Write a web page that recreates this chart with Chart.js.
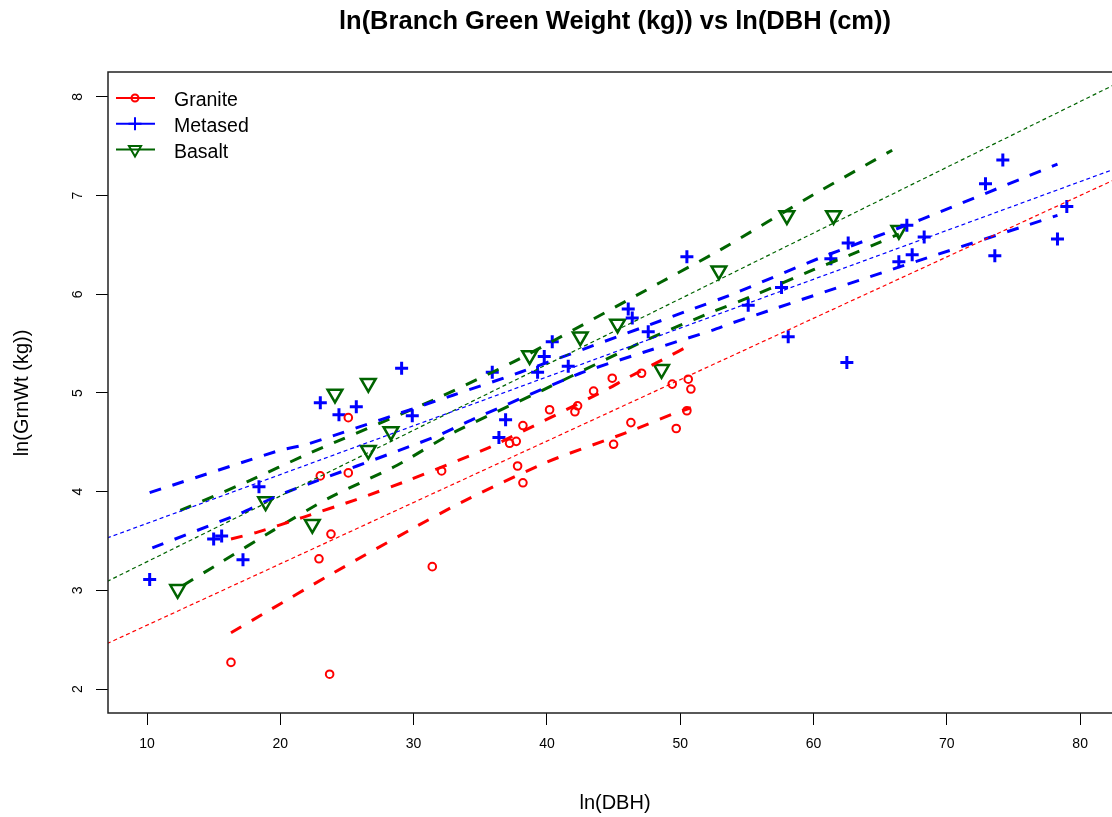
<!DOCTYPE html>
<html lang="en">
<head>
<meta charset="UTF-8">
<script src="https://cdn.jsdelivr.net/npm/chart.js@4.4.0/dist/chart.umd.min.js"></script>
<title>ln(Branch Green Weight (kg)) vs ln(DBH (cm))</title>
<style>
    html, body { margin: 0; padding: 0; background: #fff; overflow: hidden; }
    #wrap { width: 1112px; height: 817px; overflow: hidden; }
</style>
</head>
<body>
<div id="wrap"><canvas id="myChart" width="1140" height="817"></canvas></div>
<script>
// --- data ---
const granDbh = [16.3, 23.7, 23.8, 22.9, 23.0, 25.1, 25.1, 31.4, 32.1, 37.2, 37.7, 37.8, 38.2, 38.2, 40.2, 42.1, 42.3, 43.5, 44.9, 45.0, 46.3, 47.1, 49.4, 49.7, 50.5, 50.6, 50.8];
const granWt  = [2.27, 2.15, 3.57, 3.32, 4.16, 4.19, 4.75, 3.24, 4.21, 4.49, 4.51, 4.26, 4.09, 4.67, 4.83, 4.81, 4.87, 5.02, 5.15, 4.48, 4.70, 5.20, 5.09, 4.64, 4.82, 5.14, 5.04];

const metaDbh = [10.2, 15.0, 15.6, 17.2, 18.4, 23.0, 24.4, 25.7, 29.1, 29.9, 35.9, 36.4, 36.9, 39.3, 39.8, 40.4, 41.6, 46.1, 46.4, 47.6, 50.5, 55.1, 57.6, 58.1, 61.3, 62.5, 62.6, 66.4, 67.0, 67.4, 68.3, 72.9, 73.6, 74.2, 78.3, 79.0];
const metaWt  = [3.11, 3.52, 3.55, 3.31, 4.05, 4.90, 4.78, 4.86, 5.25, 4.77, 5.21, 4.55, 4.73, 5.21, 5.37, 5.52, 5.27, 5.85, 5.76, 5.62, 6.38, 5.89, 6.07, 5.57, 6.36, 5.31, 6.52, 6.33, 6.70, 6.40, 6.58, 7.12, 6.39, 7.36, 6.56, 6.89];

const basDbh = [12.3, 18.9, 22.4, 24.1, 26.6, 26.6, 28.3, 38.7, 42.5, 45.3, 48.6, 52.9, 58.0, 61.5, 66.4];
const basWt  = [3.01, 3.90, 3.67, 4.99, 5.10, 4.42, 4.61, 5.38, 5.57, 5.70, 5.24, 6.24, 6.80, 6.80, 6.65];

// fitted lines (dotted) and bands (dashed)
const granFitX = [7, 84];   const granFitY = [2.46, 7.25];
const metaFitX = [7, 84];   const metaFitY = [3.53, 7.34];
const basFitX  = [7, 84];   const basFitY  = [3.09, 8.22];

const granUpX = [16.3, 18.3, 21.7, 25.7, 29.7, 35.7, 44.4, 46.0, 49.0, 50.8];
const granUpY = [3.52, 3.59, 3.74, 3.92, 4.12, 4.45, 5.03, 5.15, 5.36, 5.49];
const granLoX = [16.3, 19.2, 23.5, 29.7, 33.7, 40.0, 46.0, 49.5, 50.8];
const granLoY = [2.57, 2.80, 3.14, 3.61, 3.90, 4.30, 4.60, 4.79, 4.85];

const metaUpX = [10.2, 20.0, 22.0, 33.0, 38.0, 50.7, 53.9, 60.5, 68.1, 78.3];
const metaUpY = [3.99, 4.42, 4.48, 4.98, 5.21, 5.84, 6.00, 6.37, 6.76, 7.32];
const metaLoX = [10.4, 17.0, 20.0, 31.5, 34.4, 42.5, 47.2, 52.5, 53.9, 66.5, 78.3];
const metaLoY = [3.43, 3.78, 3.97, 4.55, 4.73, 5.20, 5.41, 5.64, 5.71, 6.28, 6.80];

const basUpX = [12.5, 17.5, 22.2, 31.5, 38.0, 48.5, 53.0, 60.0, 65.9];
const basUpY = [3.81, 4.10, 4.39, 4.93, 5.35, 6.12, 6.45, 7.01, 7.46];
const basLoX = [12.7, 15.5, 19.5, 23.7, 28.8, 33.0, 39.7, 47.5, 52.2, 55.2, 60.0, 63.3, 65.0, 66.4];
const basLoY = [3.05, 3.28, 3.61, 3.94, 4.27, 4.60, 5.03, 5.54, 5.81, 5.97, 6.25, 6.43, 6.53, 6.61];

const xTicks = [10, 20, 30, 40, 50, 60, 70, 80];
const yTicks = [2, 3, 4, 5, 6, 7, 8];

const groups = ['Granite', 'Metased', 'Basalt'];
const RED = '#ff0000', BLUE = '#0000ff', GREEN = '#006400';
const FONT = '"Liberation Sans", Arial, sans-serif';

function pts(xs, ys) {
    return xs.map((x, i) => ({ x: x, y: ys[i] }));
}

function fitLine(xs, ys, col) {
    return { type: 'line', data: pts(xs, ys), borderColor: col, borderWidth: 1.2,
             borderDash: [4, 3], pointRadius: 0, fill: false, tension: 0 };
}
function band(xs, ys, col) {
    return { type: 'line', data: pts(xs, ys), borderColor: col, borderWidth: 3,
             borderDash: [12, 12], pointRadius: 0, fill: false, tension: 0.2 };
}

// R-like decorations: box, title, axis titles, rotated y labels, legend
const rDecor = {
    id: 'rDecor',
    afterDraw(chart) {
        const ctx = chart.ctx, a = chart.chartArea, ys = chart.scales.y;
        ctx.save();
        ctx.strokeStyle = '#222';
        ctx.lineWidth = 1.5;
        ctx.strokeRect(a.left, a.top, a.right - a.left, a.bottom - a.top);

        ctx.fillStyle = '#000';
        ctx.textAlign = 'center';
        ctx.textBaseline = 'middle';
        ctx.font = '14px ' + FONT;
        yTicks.forEach(v => {
            ctx.save();
            ctx.translate(78, ys.getPixelForValue(v));
            ctx.rotate(-Math.PI / 2);
            ctx.fillText(String(v), 0, 0);
            ctx.restore();
        });

        ctx.font = 'bold 25.5px ' + FONT;
        ctx.fillText('ln(Branch Green Weight (kg)) vs ln(DBH (cm))', 615, 22);
        ctx.font = '20px ' + FONT;
        ctx.fillText('ln(DBH)', 615, 803);
        ctx.save();
        ctx.translate(22, 393);
        ctx.rotate(-Math.PI / 2);
        ctx.fillText('ln(GrnWt (kg))', 0, 0);
        ctx.restore();

        // legend
        const cols = [RED, BLUE, GREEN];
        const marks = [
            { pointStyle: 'circle', radius: 3.5, rotation: 0, borderWidth: 2 },
            { pointStyle: 'cross', radius: 6.5, rotation: 0, borderWidth: 2.5 },
            { pointStyle: 'triangle', radius: 7, rotation: 180, borderWidth: 2 }
        ];
        groups.forEach((g, i) => {
            const y = 98 + i * 25.8;
            ctx.strokeStyle = cols[i];
            ctx.lineWidth = 2;
            ctx.setLineDash([]);
            ctx.beginPath(); ctx.moveTo(116, y); ctx.lineTo(155, y); ctx.stroke();
            ctx.fillStyle = 'rgba(0,0,0,0)';
            Chart.helpers.drawPoint(ctx, marks[i], 135, y);
            ctx.fillStyle = '#000';
            ctx.textAlign = 'left';
            ctx.font = '19.5px ' + FONT;
            ctx.fillText(g, 174, y + 3);
        });
        ctx.restore();
    }
};

const ctx = document.getElementById('myChart').getContext('2d');
const myChart = new Chart(ctx, {
    type: 'scatter',
    data: {
        datasets: [
            fitLine(granFitX, granFitY, RED),
            fitLine(metaFitX, metaFitY, BLUE),
            fitLine(basFitX, basFitY, GREEN),
            band(granUpX, granUpY, RED), band(granLoX, granLoY, RED),
            band(metaUpX, metaUpY, BLUE), band(metaLoX, metaLoY, BLUE),
            band(basUpX, basUpY, GREEN), band(basLoX, basLoY, GREEN),
            { label: groups[0], data: pts(granDbh, granWt), pointStyle: 'circle', pointRadius: 3.8,
              pointBorderWidth: 2, pointBorderColor: RED, pointBackgroundColor: 'rgba(0,0,0,0)' },
            { label: groups[1], data: pts(metaDbh, metaWt), pointStyle: 'cross', pointRadius: 6.5,
              pointBorderWidth: 3, pointBorderColor: BLUE, pointBackgroundColor: BLUE },
            { label: groups[2], data: pts(basDbh, basWt), pointStyle: 'triangle', pointRotation: 180,
              pointRadius: 8.5, pointBorderWidth: 2.5, pointBorderColor: GREEN,
              pointBackgroundColor: 'rgba(0,0,0,0)' }
        ]
    },
    options: {
        responsive: false,
        animation: false,
        devicePixelRatio: 1,
        layout: { padding: { top: 72, right: 18, left: 0, bottom: 0 } },
        plugins: { legend: { display: false }, title: { display: false }, tooltip: { enabled: false } },
        scales: {
            x: {
                type: 'linear', min: 7.074, max: 83.14,
                afterBuildTicks: s => { s.ticks = xTicks.map(v => ({ value: v })); },
                afterFit: s => { s.height = 104; },
                grid: { drawOnChartArea: false, drawTicks: true, tickLength: 12, color: '#000' },
                border: { display: false },
                ticks: { color: '#000', padding: 11, maxRotation: 0, font: { size: 14, family: FONT } }
            },
            y: {
                type: 'linear', min: 1.757, max: 8.253,
                afterBuildTicks: s => { s.ticks = yTicks.map(v => ({ value: v })); },
                afterFit: s => { s.width = 108; },
                grid: { drawOnChartArea: false, drawTicks: true, tickLength: 12, color: '#000' },
                border: { display: false },
                ticks: { display: false }
            }
        }
    },
    plugins: [rDecor]
});
</script>
</body>
</html>
